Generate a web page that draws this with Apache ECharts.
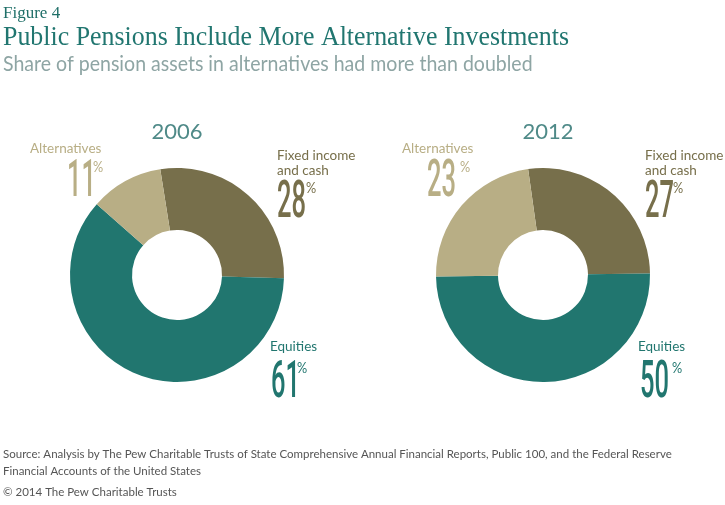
<!DOCTYPE html>
<html><head><meta charset="utf-8">
<script src="https://cdn.jsdelivr.net/npm/echarts@6/dist/echarts.min.js"></script>
<style>html,body{margin:0;padding:0;background:#fff}#c{width:725px;height:505px}</style>
</head><body><div id="c"></div>
<script>
const categories = ['Fixed income and cash', 'Equities', 'Alternatives'];
const years = ['2006', '2012'];
const values2006 = [28, 61, 11];
const values2012 = [27, 50, 23];

const colors = ['#776f4b', '#21766f', '#b8ae85'];
const chart = echarts.init(document.getElementById('c'), null, {renderer: 'canvas'});

const NUM_FONT = 'Roboto,sans-serif';
const SANS = 'Lato,"Open Sans",sans-serif';

function pieSeries(vals, cx, startAngle) {
  return {
    type: 'pie', center: [cx, 275], radius: [45, 107], startAngle: startAngle,
    clockwise: true, silent: true, label: {show: false}, labelLine: {show: false},
    itemStyle: {borderWidth: 0},
    data: vals.map((v, i) => ({name: categories[i], value: v, itemStyle: {color: colors[i]}}))
  };
}

function pct(x, y, px, v, color) {
  return [
    {type: 'text', x: x, y: y, scaleX: 0.49, style: {text: String(v), fontFamily: NUM_FONT, fontSize: 52, fontWeight: 500, fill: color, verticalAlign: 'top'}},
    {type: 'text', x: px, y: y + 3, scaleX: 0.85, style: {text: '%', fontFamily: SANS, fontSize: 15, fill: color, verticalAlign: 'top'}}
  ];
}
function label(x, y, text, color) {
  return {type: 'text', x: x, y: y, style: {text: text, fontFamily: SANS, fontSize: 13.5, fill: color, lineHeight: 15, verticalAlign: 'top'}};
}

const graphics = [
  {type: 'text', x: 3, y: 5, style: {text: 'Figure 4', fontFamily: '"Liberation Serif",serif', fontSize: 17, fill: '#1f6f68', verticalAlign: 'top'}},
  {type: 'text', x: 3, y: 24, scaleX: 0.925, style: {text: 'Public Pensions Include More Alternative Investments', fontFamily: '"Liberation Serif",serif', fontSize: 28, fill: '#217670', verticalAlign: 'top'}},
  {type: 'text', x: 3, y: 54, scaleX: 0.93, style: {text: 'Share of pension assets in alternatives had more than doubled', fontFamily: SANS, fontSize: 21, fill: '#8ea5a4', verticalAlign: 'top'}},
  {type: 'text', x: 177, y: 121, style: {text: years[0], fontFamily: SANS, fontSize: 22, fill: '#4f8a88', align: 'center', verticalAlign: 'top'}},
  {type: 'text', x: 548, y: 121, style: {text: years[1], fontFamily: SANS, fontSize: 22, fill: '#4f8a88', align: 'center', verticalAlign: 'top'}},
  label(30, 141, 'Alternatives', colors[2]),
  ...pct(67, 157, 93, values2006[2], colors[2]),
  label(277, 148, 'Fixed income\nand cash', colors[0]),
  ...pct(277, 178, 306, values2006[0], colors[0]),
  label(270, 339, 'Equities', colors[1]),
  ...pct(271, 358, 297, values2006[1], colors[1]),
  label(402, 141, 'Alternatives', colors[2]),
  ...pct(427, 157, 460, values2012[2], colors[2]),
  label(645, 148, 'Fixed income\nand cash', colors[0]),
  ...pct(645, 178, 673, values2012[0], colors[0]),
  label(638, 339, 'Equities', colors[1]),
  ...pct(640, 358, 672, values2012[1], colors[1]),
  {type: 'text', x: 3, y: 446, style: {text: 'Source: Analysis by The Pew Charitable Trusts of State Comprehensive Annual Financial Reports, Public 100, and the Federal Reserve\nFinancial Accounts of the United States', fontFamily: SANS, fontSize: 11.5, lineHeight: 17, fill: '#555', verticalAlign: 'top'}},
  {type: 'text', x: 3, y: 486, style: {text: '\u00a9 2014 The Pew Charitable Trusts', fontFamily: SANS, fontSize: 11.5, fill: '#555', verticalAlign: 'top'}}
];

chart.setOption({
  animation: false,
  backgroundColor: '#fff',
  series: [pieSeries(values2006, 177, 99), pieSeries(values2012, 543, 98)],
  graphic: graphics
});
</script></body></html>
